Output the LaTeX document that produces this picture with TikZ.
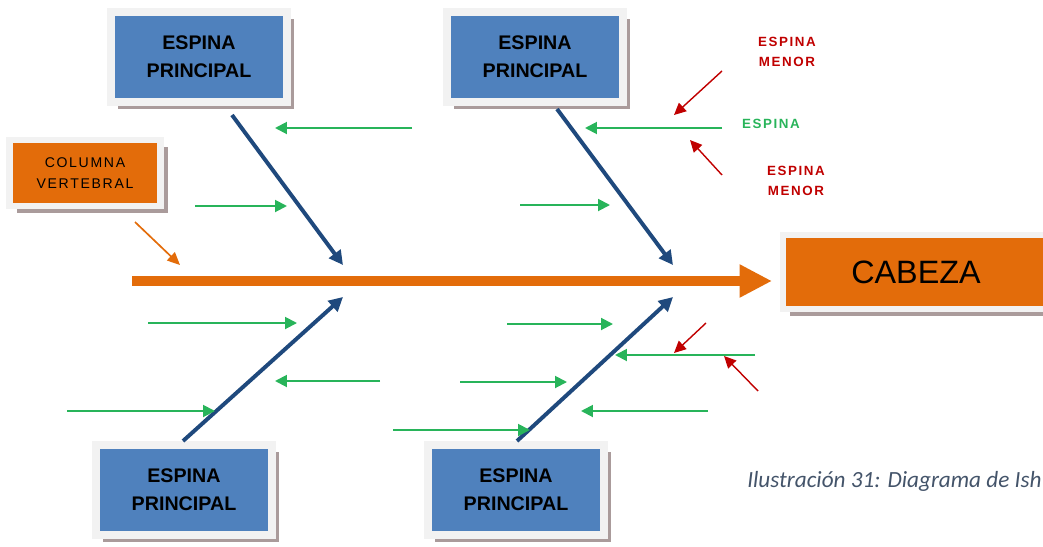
\documentclass[tikz,border=0pt]{standalone}
\usepackage{fontspec}
\setmainfont{Liberation Sans}
\newfontfamily\captionfont{Carlito}
\newfontfamily\spacedfont[LetterSpace=12]{Liberation Sans}
\usetikzlibrary{arrows.meta,shadows}
\definecolor{boxblue}{RGB}{79,129,189}
\definecolor{spineorange}{RGB}{227,108,10}
\definecolor{bonenavy}{RGB}{31,73,125}
\definecolor{minorgreen}{RGB}{40,180,90}
\definecolor{minorred}{RGB}{192,0,0}
\definecolor{framegray}{RGB}{242,242,242}
\definecolor{shadowgray}{RGB}{170,155,155}
\definecolor{captiongray}{RGB}{68,84,106}
\begin{document}
\begin{tikzpicture}[x=0.025cm,y=-0.025cm,
    framed/.style={draw=framegray,drop shadow={shadow xshift=5pt,shadow yshift=-5pt,fill=shadowgray,opacity=1}},
    mainbox/.style={framed,fill=boxblue,line width=5.7pt,minimum width=4.4cm,minimum height=2.25cm,
        align=center,font=\bfseries\fontsize{14}{20}\selectfont},
    orangebox/.style={framed,fill=spineorange,line width=4.3pt},
    bone/.style={draw=bonenavy,line width=2.8pt,-{Triangle[length=10pt,width=10pt]}},
    minor/.style={draw=minorgreen,line width=1.4pt,-{Triangle[length=8.5pt,width=8.5pt]}},
    tiny/.style={draw=minorred,line width=1pt,-{Triangle[length=8.5pt,width=8pt]}},
    note/.style={align=center,font=\spacedfont\bfseries\fontsize{9.5}{14}\selectfont}]
        \useasboundingbox (0,0) rectangle (1043,546);
        % boxes
        \node[mainbox] (p1) at (199,57) {ESPINA\\PRINCIPAL};
        \node[mainbox] (p2) at (535,57) {ESPINA\\PRINCIPAL};
        \node[mainbox] (p3) at (184,490) {ESPINA\\PRINCIPAL};
        \node[mainbox] (p4) at (516,490) {ESPINA\\PRINCIPAL};
        \node[orangebox,minimum width=3.775cm,minimum height=1.65cm,align=center,
            font=\spacedfont\fontsize{10}{15}\selectfont] (col) at (85,173) {COLUMNA\\VERTEBRAL};
        \node[orangebox,minimum width=6.65cm,minimum height=1.85cm,
            font=\fontsize{23}{28}\selectfont] (head) at (916,272) {CABEZA};
        % labels
        \node[note,text=minorred] (m1) at (787,52) {ESPINA\\MENOR};
        \node[note,text=minorgreen] (s1) at (771,124) {ESPINA};
        \node[note,text=minorred] (m2) at (796,181) {ESPINA\\MENOR};
        \node[anchor=base west,inner sep=0pt,text=captiongray,font=\captionfont\itshape\fontsize{16.5}{20}\selectfont]
            (cap) at (747,487) {Ilustración 31: Diagrama de Ish};
        % spine
        \coordinate (tail) at (132,281);
        \coordinate (tip) at (772,281);
        \draw[spineorange,line width=7.6pt,-{Triangle[length=23pt,width=22pt]}] (tail) -- (tip);
        \coordinate (c0) at (135,222);
        \coordinate (c1) at (180,265);
        \draw[spineorange,line width=1.2pt,-{Triangle[length=9pt,width=8pt]}] (c0) -- (c1);
        % main bones
        \coordinate (b1s) at (232,115); \coordinate (b1e) at (343,265);
        \coordinate (b2s) at (557,109); \coordinate (b2e) at (673,265);
        \coordinate (b3s) at (183,441); \coordinate (b3e) at (343,297);
        \coordinate (b4s) at (517,441); \coordinate (b4e) at (673,297);
        \draw[bone] (b1s) -- (b1e);
        \draw[bone] (b2s) -- (b2e);
        \draw[bone] (b3s) -- (b3e);
        \draw[bone] (b4s) -- (b4e);
        % small bones
        \coordinate (g1s) at (412,128); \coordinate (g1e) at (275,128);
        \coordinate (g2s) at (195,206); \coordinate (g2e) at (287,206);
        \coordinate (g3s) at (722,128); \coordinate (g3e) at (585,128);
        \coordinate (g4s) at (520,205); \coordinate (g4e) at (610,205);
        \coordinate (g5s) at (148,323); \coordinate (g5e) at (297,323);
        \coordinate (g6s) at (380,381); \coordinate (g6e) at (275,381);
        \coordinate (g7s) at (67,411);  \coordinate (g7e) at (215,411);
        \coordinate (g8s) at (507,324); \coordinate (g8e) at (613,324);
        \coordinate (g9s) at (460,382); \coordinate (g9e) at (567,382);
        \coordinate (g10s) at (393,430); \coordinate (g10e) at (530,430);
        \coordinate (g11s) at (708,411); \coordinate (g11e) at (581,411);
        \coordinate (g12s) at (755,355); \coordinate (g12e) at (615,355);
        \draw[minor] (g1s) -- (g1e);
        \draw[minor] (g2s) -- (g2e);
        \draw[minor] (g3s) -- (g3e);
        \draw[minor] (g4s) -- (g4e);
        \draw[minor] (g5s) -- (g5e);
        \draw[minor] (g6s) -- (g6e);
        \draw[minor] (g7s) -- (g7e);
        \draw[minor] (g8s) -- (g8e);
        \draw[minor] (g9s) -- (g9e);
        \draw[minor] (g10s) -- (g10e);
        \draw[minor] (g11s) -- (g11e);
        \draw[minor] (g12s) -- (g12e);
        % tiny bones
        \coordinate (r1s) at (722,71);  \coordinate (r1e) at (674,115);
        \coordinate (r2s) at (722,175); \coordinate (r2e) at (690,140);
        \coordinate (r3s) at (706,323); \coordinate (r3e) at (674,353);
        \coordinate (r4s) at (758,391); \coordinate (r4e) at (724,356);
        \draw[tiny] (r1s) -- (r1e);
        \draw[tiny] (r2s) -- (r2e);
        \draw[tiny] (r3s) -- (r3e);
        \draw[tiny] (r4s) -- (r4e);
        \end{tikzpicture}
\end{document}
